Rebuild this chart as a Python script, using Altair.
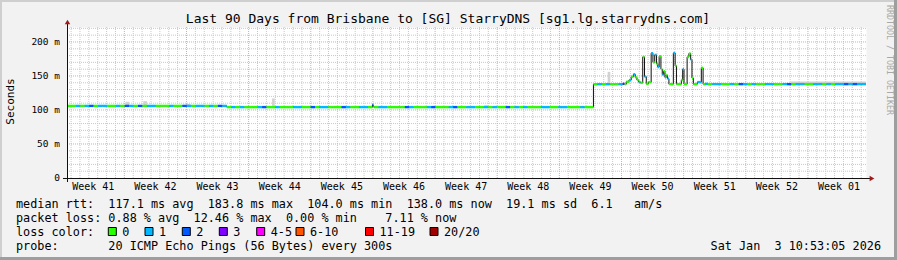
import altair as alt
import pandas as pd

# ---------------- data ----------------
# median RTT in ms, piecewise constant; flat stretches split into half-day loss samples
flat_start = [0.0, 18.0, 34.6, 59.3, 72.2]
flat_end = [18.0, 34.4, 59.3, 62.6, 90.0]
flat_ms = [106.0, 104.2, 104.2, 137.9, 138.0]
flat_loss = [
    "001012011001021020110001002101101021",
    "010100012001000110020110002100110",
    "01100002100012000120011001010020101000110011000100",
    "0101001",
    "011001021010011001201100110101121211",
]

# detailed stretches (spiky part of weeks 49-51 and the blip in week 45)
detail_day = [34.4, 34.5,
              62.6, 62.8, 63.0, 63.3, 63.55, 63.8, 64.0, 64.2, 64.4, 64.6,
              64.85, 65.05, 65.25, 65.5, 65.8, 66.0, 66.2, 66.4, 66.55, 66.7,
              66.9, 67.05, 67.2, 67.35, 67.5, 67.65, 67.8, 68.3, 68.5, 68.65,
              69.2, 69.35, 69.5, 69.85, 70.05, 70.25, 70.4, 70.55, 71.0, 71.45,
              71.65, 71.9]
detail_ms = [107.5, 105.0,
             138.5, 138.0, 141.5, 144.0, 149.0, 152.5, 148.0, 144.0, 141.0, 140.0,
             178.0, 149.0, 138.5, 141.0, 183.5, 170.0, 181.0, 168.0, 163.0, 179.0,
             160.0, 152.0, 157.0, 148.0, 151.0, 146.0, 138.0, 183.8, 165.0, 138.0,
             144.0, 160.0, 138.0, 178.0, 183.0, 174.0, 147.0, 138.0, 141.0, 162.0,
             138.0, 138.5]
detail_loss = [2, 0,
               3, 0, 0, 1, 0, 1, 0, 0, 1, 0,
               0, 1, 0, 0, 1, 0, 1, 0, 1, 0,
               0, 1, 0, 1, 0, 1, 0, 1, 0, 0,
               0, 1, 0, 0, 0, 1, 0, 0, 1, 0,
               0, 1]

# smoke (spread of individual pings) visible above the median
smoke_start = [6.6, 8.6, 13.4, 23.1, 47.0, 60.9, 81.5]
smoke_end = [7.0, 9.0, 13.9, 23.4, 47.5, 61.2, 90.0]
smoke_low = [106.0, 106.0, 106.0, 104.2, 104.2, 137.9, 138.0]
smoke_high = [112.0, 113.0, 109.0, 117.0, 107.0, 156.0, 142.0]

week_labels = ["Week 41", "Week 42", "Week 43", "Week 44", "Week 45", "Week 46",
               "Week 47", "Week 48", "Week 49", "Week 50", "Week 51", "Week 52",
               "Week 01"]
y_tick_values = [0, 50, 100, 150, 200]
y_tick_labels = ["0\u00a0\u00a0", "50 m", "100 m", "150 m", "200 m"]

loss_labels = ["0", "1", "2", "3", "4-5", "6-10", "11-19", "20/20"]
loss_colors = ["#26ff00", "#00b8ff", "#0059ff", "#7e00ff", "#ff00ff",
               "#ff5500", "#ff0000", "#a10000"]

title_text = "Last 90 Days from Brisbane to [SG] StarryDNS [sg1.lg.starrydns.com]"
line_rtt = "median rtt:  117.1 ms avg  183.8 ms max  104.0 ms min  138.0 ms now  19.1 ms sd  6.1   am/s"
line_loss = "packet loss: 0.88 % avg  12.46 % max  0.00 % min    7.11 % now"
line_color = "loss color:"
line_probe = "probe:       20 ICMP Echo Pings (56 Bytes) every 300s"
date_text = "Sat Jan  3 10:53:05 2026"
credit_text = "RRDTOOL / TOBI OETIKER"

# ---------------- styling / layout constants ----------------
W, H = 799, 151
DAYS = 90.0
DAY_OFFSET = 0.46      # first day boundary after the start of the window
WEEK_OFFSET = 6.46     # first week boundary
FONT = "DejaVu Sans Mono"
BG = "#f2f2f2"


def nb(s):
    return s.replace(" ", "\u00a0")


# ---------------- build tables ----------------
starts = []
for s, e, ms, codes in zip(flat_start, flat_end, flat_ms, flat_loss):
    step = (e - s) / len(codes)
    for i, c in enumerate(codes):
        starts.append((s + i * step, ms, int(c)))
for d, ms, l in zip(detail_day, detail_ms, detail_loss):
    starts.append((d, ms, l))
starts.sort(key=lambda t: t[0])
rows = []
for i, (d, ms, l) in enumerate(starts):
    end = starts[i + 1][0] if i + 1 < len(starts) else DAYS
    rows.append({"start": d, "end": end, "ms": ms, "loss": loss_labels[l]})
seg_df = pd.DataFrame(rows)
line_df = pd.DataFrame([{"day": r["start"], "ms": r["ms"]} for r in rows]
                       + [{"day": DAYS, "ms": rows[-1]["ms"]}])
smoke_df = pd.DataFrame({"start": smoke_start, "end": smoke_end,
                         "low": smoke_low, "high": smoke_high})

week_lines = [WEEK_OFFSET + 7 * k for k in range(13) if WEEK_OFFSET + 7 * k < DAYS]
day_lines = [DAY_OFFSET + k for k in range(90)
             if DAY_OFFSET + k < DAYS and all(abs(DAY_OFFSET + k - w) > 0.01 for w in week_lines)]
week_centers = [WEEK_OFFSET - 3.5 + 7 * k for k in range(len(week_labels))]
h_minor = [v for v in range(10, 221, 10) if v % 50 != 0]
h_major = [50, 100, 150, 200]

xs = alt.Scale(domain=[0, DAYS], nice=False, zero=False)
ys = alt.Scale(domain=[0, 222], nice=False)

layers = []

# grid
layers.append(alt.Chart(pd.DataFrame({"d": day_lines})).mark_rule(
    color="#c8c8c8", strokeWidth=1, strokeDash=[1, 1]).encode(
    x=alt.X("d:Q", scale=xs, axis=None)))
layers.append(alt.Chart(pd.DataFrame({"v": h_minor})).mark_rule(
    color="#c8c8c8", strokeWidth=1, strokeDash=[1, 1]).encode(
    y=alt.Y("v:Q", scale=ys, axis=None)))
layers.append(alt.Chart(pd.DataFrame({"d": week_lines})).mark_rule(
    color="#eea0a0", strokeWidth=1, strokeDash=[1, 1]).encode(
    x=alt.X("d:Q", scale=xs, axis=None)))
layers.append(alt.Chart(pd.DataFrame({"v": h_major})).mark_rule(
    color="#eea0a0", strokeWidth=1, strokeDash=[1, 1]).encode(
    y=alt.Y("v:Q", scale=ys, axis=None)))

# smoke
layers.append(alt.Chart(smoke_df).mark_rect(color="#d2d2d2").encode(
    x=alt.X("start:Q", scale=xs, axis=None), x2="end:Q",
    y=alt.Y("low:Q", scale=ys, axis=None), y2="high:Q"))

# median line (black) and loss-coloured median segments
layers.append(alt.Chart(line_df).mark_line(
    interpolate="step-after", color="#111111", strokeWidth=1).encode(
    x=alt.X("day:Q", scale=xs, axis=None), y=alt.Y("ms:Q", scale=ys, axis=None)))
layers.append(alt.Chart(seg_df).mark_rule(strokeWidth=2.4, strokeCap="butt").encode(
    x=alt.X("start:Q", scale=xs, axis=None), x2="end:Q",
    y=alt.Y("ms:Q", scale=ys, axis=None),
    color=alt.Color("loss:N", scale=alt.Scale(domain=loss_labels, range=loss_colors),
                    legend=None)))

# axes
layers.append(alt.Chart(alt.Data(values=[{"a": 1}])).mark_rule(
    color="#101010", strokeWidth=1).encode(
    x=alt.value(-4), x2=alt.value(806), y=alt.value(H + 0.5)))
layers.append(alt.Chart(alt.Data(values=[{"a": 1}])).mark_rule(
    color="#101010", strokeWidth=1).encode(
    x=alt.value(0.5), y=alt.value(H + 4), y2=alt.value(-4)))
layers.append(alt.Chart(alt.Data(values=[{"a": 1}])).mark_point(
    shape="triangle-right", filled=True, size=30, color="#a01a1a", opacity=1).encode(
    x=alt.value(805), y=alt.value(H + 0.5)))
layers.append(alt.Chart(alt.Data(values=[{"a": 1}])).mark_point(
    shape="triangle-up", filled=True, size=30, color="#a01a1a", opacity=1).encode(
    x=alt.value(0.5), y=alt.value(-5)))

# axis labels
layers.append(alt.Chart(pd.DataFrame({"v": y_tick_values, "t": [nb(t) for t in y_tick_labels]}))
              .mark_text(font=FONT, fontSize=9.5, align="right", baseline="middle", color="#000000")
              .encode(y=alt.Y("v:Q", scale=ys, axis=None), x=alt.value(-7), text="t:N"))
layers.append(alt.Chart(pd.DataFrame({"d": week_centers, "t": [nb(t) for t in week_labels]}))
              .mark_text(font=FONT, fontSize=10, align="center", baseline="middle", color="#000000")
              .encode(x=alt.X("d:Q", scale=xs, axis=None), y=alt.value(H + 9), text="t:N"))


def txt(s, x, y, size, align="left", angle=0, color="#000000"):
    return alt.Chart(alt.Data(values=[{"a": 1}])).mark_text(
        text=nb(s), font=FONT, fontSize=size, align=align, baseline="middle",
        angle=angle, color=color).encode(x=alt.value(x), y=alt.value(y))


layers.append(txt(title_text, 381, -8, 13, align="center"))
layers.append(txt("Seconds", -56, 74.5, 11, align="center", angle=270))
layers.append(txt(credit_text, 821.5, 33, 8.3, align="center", angle=90, color="#a8a8a8"))
layers.append(txt(line_rtt, -51, 177, 11.8))
layers.append(txt(line_loss, -51, 191, 11.8))
layers.append(txt(line_color, -51, 205, 11.8))
layers.append(txt(line_probe, -51, 219, 11.8))
layers.append(txt(date_text, 814, 219, 11.8, align="right"))

box_x = [41.3, 78, 115.3, 152.3, 189.7, 229, 298.5, 363]
for bx, lab, col in zip(box_x, loss_labels, loss_colors):
    layers.append(alt.Chart(alt.Data(values=[{"a": 1}])).mark_rect(
        color=col, stroke="#000000", strokeWidth=1).encode(
        x=alt.value(bx), x2=alt.value(bx + 8), y=alt.value(200.5), y2=alt.value(208.5)))
    layers.append(txt(lab, bx + 14, 205, 11.8))

# 3D-style frame of the image
layers.append(alt.Chart(alt.Data(values=[{"a": 1}])).mark_rule(
    color="#9e9e9e", strokeWidth=3).encode(
    x=alt.value(828.5), y=alt.value(-27), y2=alt.value(233)))
layers.append(alt.Chart(alt.Data(values=[{"a": 1}])).mark_rule(
    color="#9e9e9e", strokeWidth=3).encode(
    x=alt.value(-67), x2=alt.value(830), y=alt.value(231.5)))
layers.append(alt.Chart(alt.Data(values=[{"a": 1}])).mark_rule(
    color="#cfcfcf", strokeWidth=2).encode(
    x=alt.value(-67), x2=alt.value(827), y=alt.value(-26)))
layers.append(alt.Chart(alt.Data(values=[{"a": 1}])).mark_rule(
    color="#cfcfcf", strokeWidth=2).encode(
    x=alt.value(-66), y=alt.value(-27), y2=alt.value(230)))

chart = alt.layer(*layers).properties(
    width=W, height=H,
    padding={"left": 67, "top": 27, "right": 31, "bottom": 82},
    autosize=alt.AutoSizeParams(type="none"),
    background=BG,
).configure_view(fill="#ffffff", stroke="transparent")

chart.save("out.html", embed_options={"renderer": "svg", "actions": False})
